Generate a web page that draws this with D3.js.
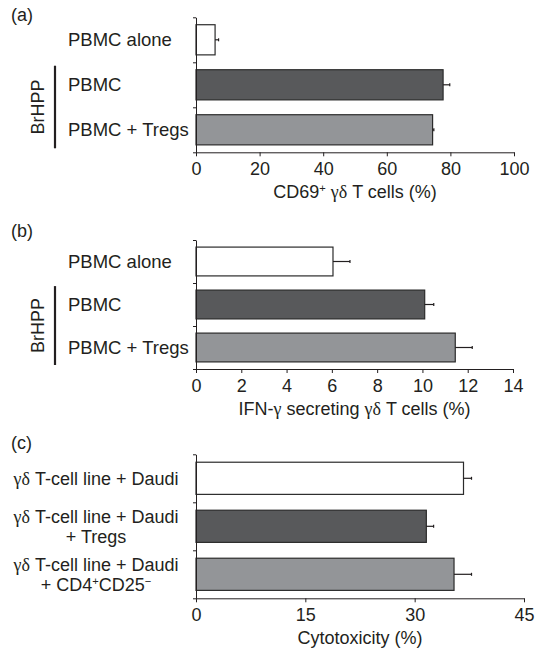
<!DOCTYPE html>
<html>
<head>
<meta charset="utf-8">
<script src="https://cdn.jsdelivr.net/npm/d3@7"></script>
<style>
  body { margin: 0; background: #fff; }
  svg { display: block; font-family: "Liberation Sans", Arial, sans-serif; }
</style>
</head>
<body>
<script>
// ---- data ----
const labelsA = [["PBMC alone"], ["PBMC"], ["PBMC + Tregs"]];
const valuesA = [6.0, 77.7, 74.4];
const errorsA = [1.1, 2.1, 0.4];
const ticksA = [0, 20, 40, 60, 80, 100];
const titleA = "CD69^+ γδ T cells (%)";

const labelsB = [["PBMC alone"], ["PBMC"], ["PBMC + Tregs"]];
const valuesB = [6.05, 10.1, 11.45];
const errorsB = [0.75, 0.4, 0.75];
const ticksB = [0, 2, 4, 6, 8, 10, 12, 14];
const titleB = "IFN-γ secreting γδ T cells (%)";

const labelsC = [["γδ T-cell line + Daudi"], ["γδ T-cell line + Daudi", "+ Tregs"], ["γδ T-cell line + Daudi", "+ CD4^+CD25^−"]];
const valuesC = [36.7, 31.6, 35.4];
const errorsC = [1.1, 1.0, 2.4];
const ticksC = [0, 15, 30, 45];
const titleC = "Cytotoxicity (%)";

const barFills = ["#ffffff", "#58595b", "#939598"];

// ---- layout ----
const W = 537, H = 655;
const ink = "#231f20";
const fs = 18;      // ticks, titles
const fsLab = 18.5; // category labels

const svg = d3.select("body").append("svg")
  .attr("width", W).attr("height", H);

// writes a string into a <text>, serif for greek letters, ^x as superscript
function rich(text, str) {
  const parts = str.split(/(γδ|γ|\^.)/).filter(s => s.length);
  parts.forEach(p => {
    if (p[0] === "^") {
      text.append("tspan").attr("baseline-shift", "super").attr("font-size", "62%").text(p.slice(1));
    } else if (p === "γδ" || p === "γ") {
      text.append("tspan").attr("font-family", "'Liberation Serif', 'DejaVu Serif', serif").text(p);
    } else {
      text.append("tspan").text(p);
    }
  });
}

function panel(opt) {
  const g = svg.append("g");
  const n = opt.values.length;

  const x = d3.scaleLinear()
    .domain([0, d3.max(opt.ticks)])
    .range([opt.x0, opt.x1]);
  const y = d3.scaleBand()
    .domain(d3.range(n))
    .range([opt.top, opt.bottom])
    .paddingInner(0.33)
    .paddingOuter(0.165);
  const yb = d3.scaleLinear().domain([0, n]).range([opt.top, opt.bottom]);

  // bars
  g.selectAll("rect.bar")
    .data(opt.values)
    .enter().append("rect")
    .attr("class", "bar")
    .attr("x", x(0))
    .attr("y", (d, i) => y(i))
    .attr("width", d => x(d) - x(0))
    .attr("height", y.bandwidth())
    .attr("fill", (d, i) => barFills[i])
    .attr("stroke", "#2b2b2b")
    .attr("stroke-width", 1.2);

  // error bars
  const eb = g.selectAll("g.err")
    .data(opt.values)
    .enter().append("g").attr("class", "err")
    .attr("stroke", ink).attr("stroke-width", 1.2);
  eb.append("line")
    .attr("x1", d => x(d))
    .attr("x2", (d, i) => x(d + opt.errors[i]))
    .attr("y1", (d, i) => y(i) + y.bandwidth() / 2)
    .attr("y2", (d, i) => y(i) + y.bandwidth() / 2);
  eb.append("line")
    .attr("x1", (d, i) => x(d + opt.errors[i]))
    .attr("x2", (d, i) => x(d + opt.errors[i]))
    .attr("y1", (d, i) => y(i) + y.bandwidth() / 2 - 1.5)
    .attr("y2", (d, i) => y(i) + y.bandwidth() / 2 + 1.5);

  // y axis with ticks at band edges
  const ya = g.append("g")
    .attr("transform", `translate(${opt.x0},0)`)
    .call(d3.axisLeft(yb).tickValues(d3.range(n + 1)).tickFormat("").tickSizeInner(3).tickSizeOuter(0));
  ya.selectAll("line, path").attr("stroke", ink);

  // x axis
  const xa = g.append("g")
    .attr("transform", `translate(0,${opt.bottom})`)
    .call(d3.axisBottom(x).tickValues(opt.ticks).tickSizeInner(4).tickSizeOuter(0).tickPadding(6));
  xa.selectAll("line, path").attr("stroke", ink);
  xa.selectAll("text")
    .attr("font-size", fs).attr("fill", ink)
    .attr("font-family", "'Liberation Sans', Arial, sans-serif");

  // axis title
  const t = g.append("text")
    .attr("x", (opt.x0 + opt.x1) / 2)
    .attr("y", opt.bottom + 46)
    .attr("text-anchor", "middle")
    .attr("font-size", fs).attr("fill", ink);
  rich(t, opt.title);

  // category labels
  opt.labels.forEach((lines, i) => {
    const cy = y(i) + y.bandwidth() / 2;
    lines.forEach((s, k) => {
      const tx = g.append("text")
        .attr("x", opt.labelX)
        .attr("y", cy + fsLab * 0.35 + (k - (lines.length - 1) / 2) * 20)
        .attr("text-anchor", opt.anchor)
        .attr("font-size", opt.labelSize || fsLab).attr("fill", ink);
      rich(tx, s);
    });
  });

  // panel letter
  g.append("text")
    .attr("x", 11).attr("y", opt.letterY)
    .attr("font-size", fs).attr("fill", ink)
    .text(opt.letter);

  // BrHPP bracket
  if (opt.bracket) {
    const y1 = y(1) - 4, y2 = opt.bottom - 4;
    g.append("line")
      .attr("x1", 55).attr("x2", 55)
      .attr("y1", y1).attr("y2", y2)
      .attr("stroke", ink).attr("stroke-width", 2.2);
    g.append("text")
      .attr("transform", `translate(${44},${(y1 + y2) / 2}) rotate(-90)`)
      .attr("text-anchor", "middle")
      .attr("font-size", fs).attr("fill", ink)
      .text("BrHPP");
  }
}

panel({ letter: "(a)", letterY: 20.5, top: 17.3, bottom: 152.3, x0: 196, x1: 514,
  values: valuesA, errors: errorsA, ticks: ticksA, labels: labelsA, title: titleA,
  labelX: 68, anchor: "start", bracket: true });

panel({ letter: "(b)", letterY: 237, top: 240, bottom: 369, x0: 196, x1: 513,
  values: valuesB, errors: errorsB, ticks: ticksB, labels: labelsB, title: titleB,
  labelX: 68, anchor: "start", bracket: true });

panel({ letter: "(c)", letterY: 449, top: 454.3, bottom: 598.3, x0: 196, x1: 524,
  values: valuesC, errors: errorsC, ticks: ticksC, labels: labelsC, title: titleC,
  labelX: 96, anchor: "middle", bracket: false, labelSize: 18 });
</script>
</body>
</html>
